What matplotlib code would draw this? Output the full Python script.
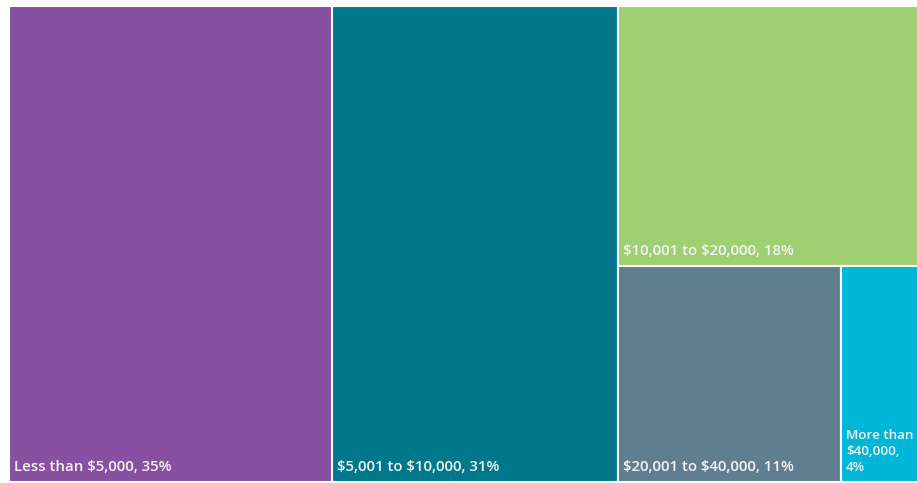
import matplotlib.pyplot as plt
from matplotlib.patches import Rectangle

# share of households by amount
labels = ["Less than $5,000, 35%", "$5,001 to $10,000, 31%",
          "$10,001 to $20,000, 18%", "$20,001 to $40,000, 11%",
          "More than\n$40,000,\n4%"]
values = [35, 31, 18, 11, 4]
colors = ["#8750a0", "#00788c", "#9ecf70", "#5f7f91", "#00b7da"]

W, H = 913.0, 476.0
total = sum(values)

# layout: two full-height columns, then a column split into a top block
# and a bottom row of the last two
rects = []
x = 0.0
for v in values[:2]:
    w = W * v / total
    rects.append((x, 0, w, H))
    x += w
rest = sum(values[2:])
wc = W * rest / total
h_top = H * values[2] / rest
rects.append((x, H - h_top, wc, h_top))
bottom = sum(values[3:])
xb = x
for v in values[3:]:
    w = wc * v / bottom
    rects.append((xb, 0, w, H - h_top))
    xb += w

fig = plt.figure(figsize=(9.17, 4.83), dpi=100)
ax = fig.add_axes([9 / 917, 1 / 483, W / 917, H / 483])
ax.set_xlim(0, W)
ax.set_ylim(0, H)
ax.axis("off")

for (rx, ry, rw, rh), c, lab in zip(rects, colors, labels):
    ax.add_patch(Rectangle((rx, ry), rw, rh, facecolor=c,
                           edgecolor="white", linewidth=1.5))
    # the narrow box runs off the page, so its label is a bit smaller
    fs = 10.8 if rw > 150 else 9.6
    ax.text(rx + 5, ry + 8, lab, color="#f4f4f4", fontsize=fs,
            fontfamily="Open Sans", fontweight="semibold",
            ha="left", va="bottom", linespacing=1.3, parse_math=False)

fig.savefig("out.png", dpi=100)
